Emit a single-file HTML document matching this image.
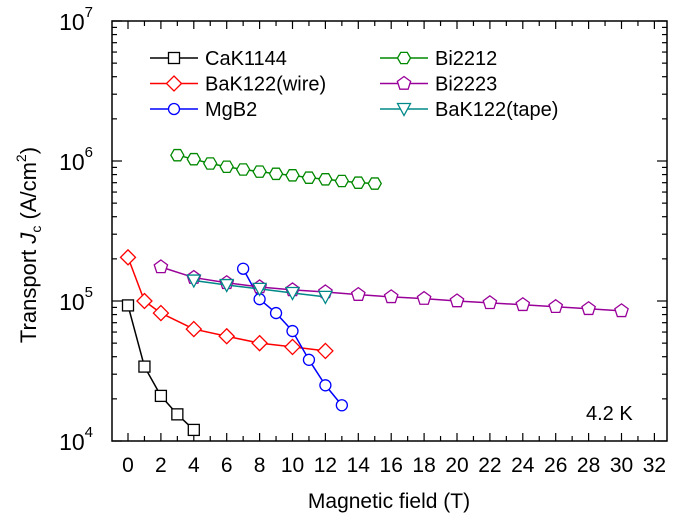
<!DOCTYPE html>
<html><head><meta charset="utf-8"><style>
html,body{margin:0;padding:0;background:#fff}
svg text{font-family:"Liberation Sans",Arial,sans-serif;fill:#000}
</style></head><body>
<svg width="678" height="526" viewBox="0 0 678 526">
<g id="axes"></g>
<g id="series"></g>
<g id="legend"></g>
<text x="586" y="420" font-size="20">4.2 K</text>
<text x="389" y="508" font-size="21" text-anchor="middle">Magnetic field (T)</text>
<text transform="translate(36,245) rotate(-90)" font-size="22" text-anchor="middle">Transport <tspan font-style="italic">J</tspan><tspan font-size="14" dy="5">c</tspan><tspan dy="-5"> (A/cm</tspan><tspan font-size="14" dy="-10">2</tspan><tspan dy="10">)</tspan></text>
</svg>
<script>
const xTicks=[0,2,4,6,8,10,12,14,16,18,20,22,24,26,28,30,32];
const yDecades=[4,5,6,7];
const cakX=[0,1,2,3,4];
const cakY=[9.3e4,3.4e4,2.1e4,1.55e4,1.2e4];
const wireX=[0,1,2,4,6,8,10,12];
const wireY=[2.05e5,1.0e5,8.2e4,6.3e4,5.6e4,5.0e4,4.7e4,4.4e4];
const mgbX=[7,8,9,10,11,12,13];
const mgbY=[1.7e5,1.03e5,8.2e4,6.1e4,3.8e4,2.5e4,1.8e4];
const bi2212X=[3,4,5,6,7,8,9,10,11,12,13,14,15];
const bi2212Y=[1.1e6,1.03e6,9.6e5,9.1e5,8.7e5,8.4e5,8.1e5,7.9e5,7.6e5,7.4e5,7.2e5,7.0e5,6.9e5];
const bi2223X=[2,4,6,8,10,12,14,16,18,20,22,24,26,28,30];
const bi2223Y=[1.75e5,1.47e5,1.35e5,1.26e5,1.2e5,1.16e5,1.11e5,1.07e5,1.04e5,1.0e5,9.7e4,9.4e4,9.1e4,8.8e4,8.5e4];
const tapeX=[4,6,8,10,12];
const tapeY=[1.4e5,1.3e5,1.22e5,1.14e5,1.07e5];

const L=112,R=667,T=21,B=441;
const sx=v=>128+v*16.45;
const sy=v=>B-(Math.log10(v)-4)*140;
const NS="http://www.w3.org/2000/svg";
function mk(tag,attrs,parent){const e=document.createElementNS(NS,tag);for(const k in attrs)e.setAttribute(k,attrs[k]);parent.appendChild(e);return e;}
const ax=document.getElementById('axes');
const frame=mk('rect',{x:L,y:T,width:R-L,height:B-T,fill:'none',stroke:'#000','stroke-width':1.5},ax);


for(let v=-1;v<=32.5;v+=1){const x=sx(v);if(x<L+1||x>R-1)continue;const len=(v%2===0)?8:5;
 mk('line',{x1:x,x2:x,y1:B,y2:B-len,stroke:'#000','stroke-width':1.2},ax);
 mk('line',{x1:x,x2:x,y1:T,y2:T+len,stroke:'#000','stroke-width':1.2},ax);}
xTicks.forEach(v=>{const t=mk('text',{x:sx(v),y:B+31,'font-size':21,'text-anchor':'middle'},ax);t.textContent=v;
 
 });
yDecades.forEach(d=>{
 for(let m=1;m<10;m++){if(d===7&&m>1)break;const y=sy(m*Math.pow(10,d));const len=m===1?10:5;
  mk('line',{x1:L,x2:L+len,y1:y,y2:y,stroke:'#000','stroke-width':1.2},ax);
  mk('line',{x1:R,x2:R-len,y1:y,y2:y,stroke:'#000','stroke-width':1.2},ax);}
 const t=mk('text',{x:93,y:sy(Math.pow(10,d))+9,'font-size':23,'text-anchor':'end'},ax);
 t.innerHTML='10<tspan font-size="15" dy="-13">'+d+'</tspan>';
 
 
});
function marker(type,x,y,c,g){
 const a={fill:'#fff',stroke:c,'stroke-width':1.3};
 let e;
 if(type==='sq')e=mk('rect',Object.assign({x:x-5.5,y:y-5.5,width:11,height:11},a),g);
 else if(type==='dia')e=mk('polygon',Object.assign({points:`${x},${y-7.5} ${x+7.5},${y} ${x},${y+7.5} ${x-7.5},${y}`},a),g);
 else if(type==='circ')e=mk('circle',Object.assign({cx:x,cy:y,r:5.5},a),g);
 else if(type==='hex'){let p=[];for(let i=0;i<6;i++){const an=Math.PI/3*i;p.push((x+6.5*Math.cos(an))+','+(y+6.5*Math.sin(an)));}e=mk('polygon',Object.assign({points:p.join(' ')},a),g);}
 else if(type==='pent'){let p=[];for(let i=0;i<5;i++){const an=-Math.PI/2+2*Math.PI/5*i;p.push((x+7*Math.cos(an))+','+(y+7*Math.sin(an)));}e=mk('polygon',Object.assign({points:p.join(' ')},a),g);}
 else e=mk('polygon',Object.assign({points:`${x-6.5},${y-5.5} ${x+6.5},${y-5.5} ${x},${y+6.5}`},a),g);
 return e;}
const series=[
 ['cak1144',cakX,cakY,'#000','sq','CaK1144'],
 ['bak122-wire',wireX,wireY,'#f00','dia','BaK122(wire)'],
 ['mgb2',mgbX,mgbY,'#00f','circ','MgB2'],
 ['bi2212',bi2212X,bi2212Y,'#080','hex','Bi2212'],
 ['bi2223',bi2223X,bi2223Y,'#909','pent','Bi2223'],
 ['bak122-tape',tapeX,tapeY,'#088','tri','BaK122(tape)']];
const sg=document.getElementById('series');
const lg=document.getElementById('legend');
series.forEach((s,i)=>{
 const g=mk('g',{},sg);
 
 
 const pts=s[1].map((x,j)=>sx(x)+','+sy(s[2][j])).join(' ');
 mk('polyline',{points:pts,fill:'none',stroke:s[3],'stroke-width':1.5},g);
 s[1].forEach((x,j)=>{const m=marker(s[4],sx(x),sy(s[2][j]),s[3],g);
  
  });
 const col=i<3?0:1,row=i%3;
 const lx=col?380:150,ly=58+row*25.5;
 const le=mk('g',{},lg);
 
 
 mk('line',{x1:lx,x2:lx+48,y1:ly,y2:ly,stroke:s[3],'stroke-width':1.5},le);
 marker(s[4],lx+24,ly,s[3],le);
 const t=mk('text',{x:lx+55,y:ly+7,'font-size':20},le);t.textContent=s[5];
});
</script>
</body></html>
